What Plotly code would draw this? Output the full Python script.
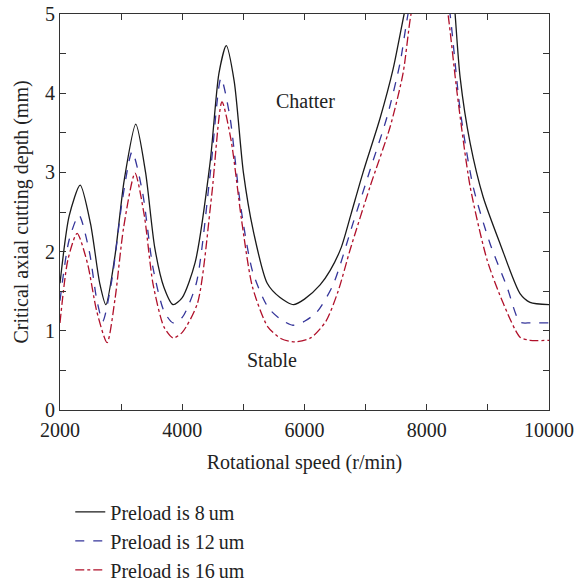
import plotly.graph_objects as go

rpm_8 = [2000, 2150, 2330, 2500, 2650, 2750, 2900, 3050, 3240, 3400, 3550, 3700, 3850, 4000, 4210, 4455, 4600, 4720, 4850, 5000, 5160, 5390, 5600, 5820, 6000, 6255, 6418, 6600, 6760, 6958, 7235, 7448, 7630, 7850, 8100, 8330, 8464, 8546, 8710, 8923, 9200, 9526, 9690, 10000]
depth_8 = [1.60, 2.45, 2.84, 2.35, 1.6, 1.33, 1.95, 2.9, 3.61, 3.0, 2.05, 1.55, 1.33, 1.42, 1.86, 3.12, 4.25, 4.60, 4.15, 3.0, 2.27, 1.60, 1.42, 1.33, 1.40, 1.58, 1.76, 2.05, 2.47, 3.0, 3.68, 4.30, 5.0, 5.8, 6.5, 6.4, 5.0, 4.2, 3.37, 2.69, 2.10, 1.47, 1.36, 1.33]

rpm_12 = [2000, 2150, 2310, 2480, 2600, 2700, 2850, 3020, 3180, 3350, 3520, 3700, 3850, 4000, 4230, 4460, 4634, 4780, 4950, 5150, 5400, 5600, 5810, 6000, 6206, 6467, 6794, 7072, 7350, 7563, 7694, 7900, 8150, 8381, 8546, 8759, 9036, 9314, 9526, 9700, 10000]
depth_12 = [1.38, 2.15, 2.46, 2.0, 1.4, 1.12, 1.65, 2.65, 3.26, 2.75, 1.8, 1.25, 1.10, 1.17, 1.6, 3.0, 4.19, 3.7, 2.6, 1.75, 1.30, 1.15, 1.07, 1.12, 1.24, 1.58, 2.36, 3.03, 3.70, 4.38, 5.0, 5.7, 6.2, 5.0, 3.79, 2.82, 2.10, 1.55, 1.11, 1.10, 1.10]

rpm_16 = [2000, 2130, 2280, 2450, 2600, 2770, 2900, 3040, 3227, 3380, 3520, 3700, 3850, 4000, 4250, 4480, 4650, 4800, 4970, 5150, 5400, 5620, 5850, 6100, 6350, 6550, 6745, 7072, 7399, 7612, 7743, 7950, 8150, 8348, 8497, 8710, 8989, 9250, 9526, 9690, 10000]
depth_16 = [1.10, 1.9, 2.23, 1.85, 1.25, 0.85, 1.4, 2.3, 2.99, 2.45, 1.6, 1.05, 0.91, 0.98, 1.35, 2.7, 3.89, 3.4, 2.4, 1.55, 1.05, 0.90, 0.86, 0.91, 1.12, 1.50, 2.02, 2.82, 3.57, 4.25, 5.0, 5.7, 6.0, 5.0, 4.0, 2.82, 1.89, 1.35, 0.92, 0.88, 0.88]

names = ["Preload is 8\u2009um", "Preload is 12\u2009um", "Preload is 16\u2009um"]
colors = ["#1a1a1a", "#35359a", "#b0102a"]
dashes = ["solid", "dash", "dashdot"]
x_ticks = [2000, 4000, 6000, 8000, 10000]
y_ticks = [0, 1, 2, 3, 4, 5]

FONT = "Liberation Serif, Times New Roman, serif"
TXT = "#222"
FS = 20

fig = go.Figure()
for xs, ys, nm, c, d in zip([rpm_8, rpm_12, rpm_16], [depth_8, depth_12, depth_16], names, colors, dashes):
    fig.add_trace(go.Scatter(x=xs, y=ys, mode="lines", name=nm,
                             line=dict(color=c, dash=d, width=1.3, shape="spline", smoothing=0.7)))

fig.add_annotation(x=6010, y=3.90, text="Chatter", showarrow=False,
                   font=dict(family=FONT, size=FS, color=TXT))
fig.add_annotation(x=5470, y=0.63, text="Stable", showarrow=False,
                   font=dict(family=FONT, size=FS, color=TXT))

axis_common = dict(showline=True, linecolor="#333", linewidth=1.2, mirror="allticks",
                   ticks="inside", ticklen=6, tickcolor="#333", showgrid=False, zeroline=False,
                   automargin=False,
                   tickfont=dict(family=FONT, size=FS, color=TXT))

fig.update_xaxes(range=[2000, 10000], tickvals=x_ticks, ticktext=[str(v) for v in x_ticks],
                 ticklabelstandoff=2,
                 minor=dict(ticks="inside", dtick=1000, ticklen=6, tickcolor="#333", showgrid=False),
                 title=dict(text="Rotational speed (r/min)", font=dict(family=FONT, size=FS, color=TXT), standoff=14),
                 **axis_common)
fig.update_yaxes(range=[0, 5], tickvals=y_ticks, ticktext=[str(v) for v in y_ticks],
                 minor=dict(ticks="inside", dtick=0.5, ticklen=6, tickcolor="#333", showgrid=False),
                 title=dict(text="Critical axial cutting depth (mm)", font=dict(family=FONT, size=FS, color=TXT), standoff=10),
                 **axis_common)

fig.update_layout(width=576, height=584, margin=dict(l=60, r=27, t=14, b=174, autoexpand=False),
                  plot_bgcolor="white", paper_bgcolor="white",
                  font=dict(family=FONT, color=TXT),
                  legend=dict(x=0.021, y=-0.208, xanchor="left", yanchor="top",
                              font=dict(family=FONT, size=FS, color=TXT),
                              bgcolor="rgba(0,0,0,0)"))

fig.write_html("out.html")
